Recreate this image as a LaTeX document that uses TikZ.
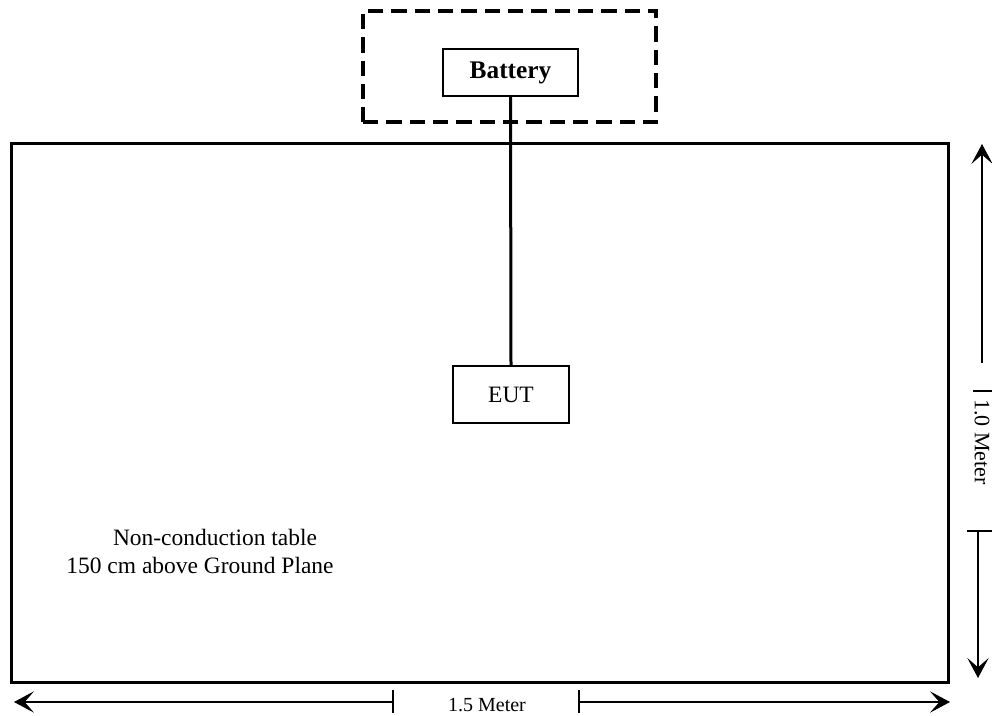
\documentclass[tikz,border=0pt]{standalone}
\usepackage{fontspec}
\setmainfont{Liberation Serif}
\usetikzlibrary{arrows.meta}
\begin{document}
\begin{tikzpicture}[x=0.75pt,y=-0.75pt,
  box/.style={draw,line width=1pt,inner sep=0pt},
  dimline/.style={line width=0.8pt},
  dimarrow/.style={line width=0.8pt,-{Stealth[length=15pt,width=16pt,inset=7pt]}},
  bigtext/.style={font=\fontsize{17.6}{21}\selectfont,inner sep=0pt},
  dimtext/.style={font=\fontsize{15}{18}\selectfont,inner sep=0pt}]
\useasboundingbox (0,0) rectangle (992,716);
% table
\node[draw,line width=2.25pt,minimum width=702.75pt,minimum height=403.5pt,inner sep=0pt] (table) at (479.5,413) {};
% dashed enclosure
\node[draw,line width=2.3pt,dash pattern=on 11.5pt off 6pt,minimum width=219.75pt,minimum height=83.25pt,inner sep=0pt] (encl) at (509.5,66.5) {};
% battery
\node[box,inner sep=0pt,font=\fontsize{19}{22}\selectfont\bfseries,minimum width=101.25pt,minimum height=35.25pt] (battery) at (510.5,72.5) {Battery};
% EUT
\node[box,bigtext,minimum width=87pt,minimum height=42.75pt] (eut) at (511,394.5) {EUT};
\draw[line width=2.25pt] (battery.south) -- (eut.north);
% table labels
\node[bigtext,anchor=base] (lbl1) at (215,545) {Non-conduction table};
\node[bigtext,anchor=base] (lbl2) at (200,573) {150 cm above Ground Plane};
% horizontal dimension
\coordinate (hl) at (14,702);
\coordinate (hla) at (393,702);
\coordinate (hra) at (579,702);
\coordinate (hr) at (950,702);
\draw[dimarrow] (hla) -- (hl);
\draw[dimarrow] (hra) -- (hr);
\draw[dimline] (393,690) coordinate (t1a) -- (393,713) coordinate (t1b);
\draw[dimline] (579,690) coordinate (t2a) -- (579,713) coordinate (t2b);
\node[dimtext,anchor=base] (hlabel) at (487,711) {1.5 Meter};
% vertical dimension
\coordinate (vt) at (982,144);
\coordinate (vta) at (982,363);
\coordinate (vba) at (978,531);
\coordinate (vb) at (978,678);
\draw[dimarrow] (vta) -- (vt);
\draw[dimarrow] (vba) -- (vb);
\draw[dimline] (973,391) coordinate (t3a) -- (992,391) coordinate (t3b);
\draw[dimline] (967,531) coordinate (t4a) -- (992,531) coordinate (t4b);
\node[font=\fontsize{16.5}{19}\selectfont,inner sep=0pt,rotate=-90] (vlabel) at (982,442) {1.0 Meter};
\end{tikzpicture}
\end{document}
